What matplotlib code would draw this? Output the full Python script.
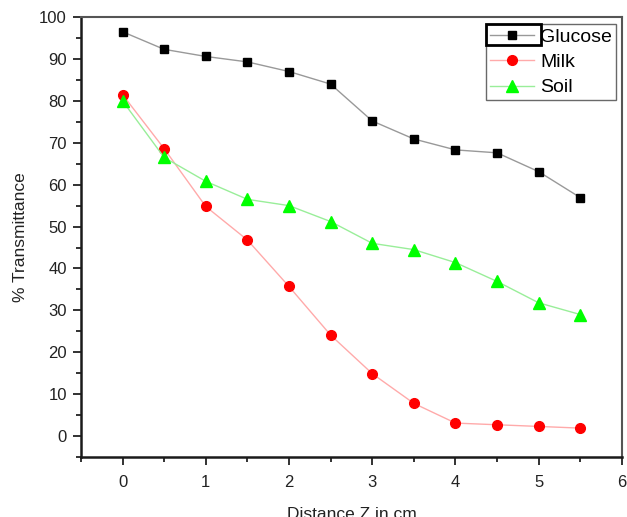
import matplotlib
matplotlib.use("Agg")
import matplotlib.pyplot as plt
from matplotlib.ticker import MultipleLocator
from matplotlib.patches import Rectangle

plt.rcParams['font.family'] = ['Liberation Sans', 'DejaVu Sans']

distance = [0, 0.5, 1, 1.5, 2, 2.5, 3, 3.5, 4, 4.5, 5, 5.5]
glucose = [96.5, 92.3, 90.6, 89.3, 87.0, 84.0, 75.2, 70.9, 68.3, 67.6, 63.1, 56.9]
milk = [81.5, 68.6, 54.8, 46.8, 35.7, 24.1, 14.9, 7.8, 3.1, 2.7, 2.3, 1.9]
soil = [80.0, 66.5, 60.8, 56.5, 55.0, 51.2, 46.0, 44.5, 41.4, 36.9, 31.8, 29.0]

fig = plt.figure(figsize=(6.27, 5.17), dpi=100)
ax = fig.add_axes([0.129, 0.116, 0.863, 0.851])

ax.plot(distance, glucose, color='#999999', lw=1, marker='s', ms=6.3,
        mfc='black', mec='black', label='Glucose')
ax.plot(distance, milk, color='#ffaaaa', lw=1, marker='o', ms=7,
        mfc='#ff0000', mec='#ff0000', label='Milk')
ax.plot(distance, soil, color='#99ee99', lw=1, marker='^', ms=8,
        mfc='#00ff00', mec='#00ff00', label='Soil')

ax.set_xlim(-0.5, 6)
ax.set_ylim(-5, 100)
ax.xaxis.set_major_locator(MultipleLocator(1))
ax.xaxis.set_minor_locator(MultipleLocator(0.5))
ax.yaxis.set_major_locator(MultipleLocator(10))
ax.yaxis.set_minor_locator(MultipleLocator(5))
ax.tick_params(which='both', direction='out', width=1.3, colors='#222222',
               labelsize=12, labelcolor='#222222')
ax.tick_params(which='major', length=6)
ax.tick_params(which='minor', length=3.5)
ax.tick_params(axis='x', pad=7)
ax.tick_params(axis='y', pad=4)

for side in ['left', 'bottom']:
    ax.spines[side].set_linewidth(1.8)
    ax.spines[side].set_color('#1a1a1a')
for side in ['top', 'right']:
    ax.spines[side].set_linewidth(1.5)
    ax.spines[side].set_color('#555555')

ax.set_xlabel('Distance Z in cm', fontsize=12.5, color='#222222', labelpad=12)
ax.set_ylabel('% Transmittance', fontsize=12.5, color='#222222', labelpad=8)

leg = ax.legend(loc='upper right', bbox_to_anchor=(0.989, 0.984), fontsize=14,
                frameon=True, fancybox=False, edgecolor='#444444',
                borderpad=0.2, labelspacing=0.4, handlelength=2.3,
                handletextpad=0.3, borderaxespad=0.0)
leg.get_frame().set_linewidth(1.0)

fig.canvas.draw()
# selection box around the first legend handle
handle_box = leg.legend_handles[0].get_window_extent(fig.canvas.get_renderer())
inv = fig.transFigure.inverted()
(x0, y0), (x1, y1) = inv.transform([[handle_box.x0 + 1, handle_box.y0 - 6],
                                    [handle_box.x1 + 2, handle_box.y1 + 6]])
fig.patches.append(Rectangle((x0, y0), x1 - x0, y1 - y0, fill=False,
                             lw=2, ec='black', transform=fig.transFigure))

fig.savefig('out.png', dpi=100)
